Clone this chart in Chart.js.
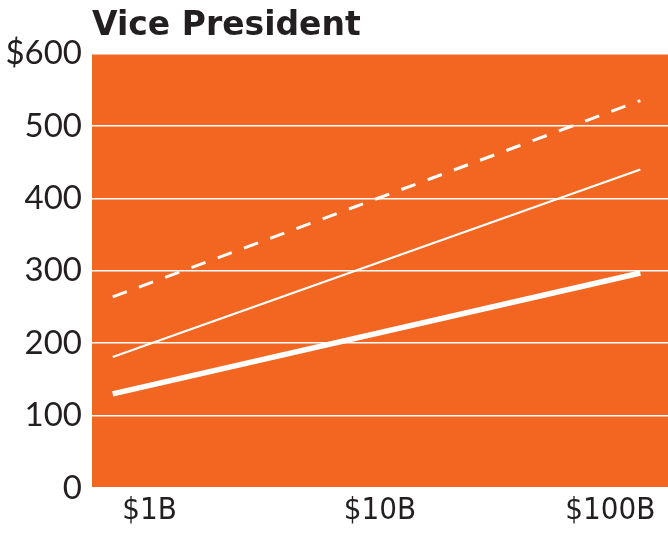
<!DOCTYPE html>
<html>
<head>
<meta charset="utf-8">
<script src="https://cdn.jsdelivr.net/npm/chart.js@4"></script>
<style>
html,body{margin:0;padding:0;background:#fff;}
#wrap{width:668px;height:534px;}
</style>
</head>
<body>
<div id="wrap"><canvas id="c" width="668" height="534"></canvas></div>
<script>
// X positions are log10 of company revenue in $B (0 = $1B, 1 = $10B, 2 = $100B)
const xTickValues = [0, 1, 2];
const xTickLabels = ['$1B', '$10B', '$100B'];
const yTickValues = [0, 100, 200, 300, 400, 500, 600];
const yTickLabels = ['0', '100', '200', '300', '400', '500', '$600'];

const lineX = [-0.16, 2.13];
const dashedValues = [264, 535];
const thinValues = [181, 440];
const thickValues = [130, 297];

const toPts = (vals) => vals.map((v, i) => ({x: lineX[i], y: v}));

const bgPlugin = {
  id: 'bg',
  beforeDraw(chart) {
    const {ctx, chartArea: a} = chart;
    ctx.save();
    ctx.fillStyle = '#F36621';
    ctx.fillRect(a.left, a.top, a.right - a.left, a.bottom - a.top);
    ctx.restore();
  }
};

new Chart(document.getElementById('c'), {
  type: 'line',
  data: {
    datasets: [
      {data: toPts(dashedValues), borderColor: '#fff', borderWidth: 3, borderDash: [15, 13], pointRadius: 0, tension: 0},
      {data: toPts(thinValues), borderColor: '#fff', borderWidth: 2.2, pointRadius: 0, tension: 0},
      {data: toPts(thickValues), borderColor: '#fff', borderWidth: 5.5, pointRadius: 0, tension: 0}
    ]
  },
  options: {
    responsive: false,
    animation: false,
    layout: {padding: {left: 0, right: 0, top: 0, bottom: 0}},
    plugins: {
      legend: {display: false},
      tooltip: {enabled: false},
      title: {
        display: true,
        text: 'Vice President',
        align: 'start',
        fullSize: false,
        color: '#231f20',
        font: {family: 'DejaVu Sans', size: 33, weight: 'bold'},
        padding: {top: 7, bottom: 7}
      }
    },
    scales: {
      x: {
        type: 'linear',
        min: -0.25,
        max: 2.25,
        afterBuildTicks(axis) { axis.ticks = xTickValues.map(v => ({value: v})); },
        afterFit(axis) { axis.height = 46; },
        grid: {display: false},
        border: {display: false},
        ticks: {
          color: '#231f20',
          font: {family: 'DejaVu Sans Condensed', size: 31},
          padding: -4,
          maxRotation: 0,
          autoSkip: false,
          callback: (v) => { const i = xTickValues.indexOf(v); return i >= 0 ? xTickLabels[i] : ''; }
        }
      },
      y: {
        min: 0,
        max: 600,
        afterBuildTicks(axis) { axis.ticks = yTickValues.map(v => ({value: v})); },
        afterFit(axis) { axis.width = 92; },
        grid: {color: '#fff', lineWidth: 1.5, drawTicks: false},
        border: {display: false},
        ticks: {
          color: '#231f20',
          font: {family: 'Lato', size: 33},
          padding: 10,
          autoSkip: false,
          callback: (v) => { const i = yTickValues.indexOf(v); return i >= 0 ? yTickLabels[i] : ''; }
        }
      }
    }
  },
  plugins: [bgPlugin]
});
</script>
</body>
</html>
